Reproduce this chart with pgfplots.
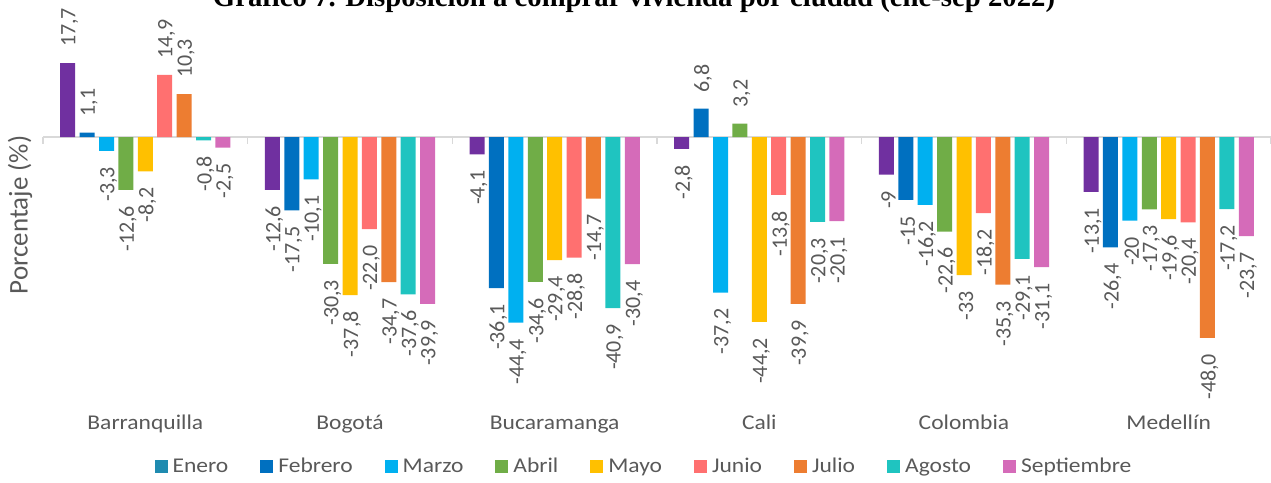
\documentclass[border=0pt]{standalone}
\usepackage{pgfplots}
\pgfplotsset{compat=1.18}
\usepackage{pgfplotstable}
\usepackage{graphicx}
\usepackage{fontspec}
\setmainfont{Carlito}
\newfontfamily\stretched{Carlito}[FakeStretch=1.12]
\newfontfamily\titlefont{Liberation Serif}
\definecolor{textgray}{HTML}{595959}
\definecolor{zl}{HTML}{D9D9D9}
\definecolor{cene}{HTML}{7030A0}
\definecolor{cenel}{HTML}{1F8BB0}
\definecolor{cfeb}{HTML}{0070C0}
\definecolor{cmar}{HTML}{00B0F0}
\definecolor{cabr}{HTML}{70AD47}
\definecolor{cmay}{HTML}{FFC000}
\definecolor{cjun}{HTML}{FF7070}
\definecolor{cjul}{HTML}{ED7D31}
\definecolor{cago}{HTML}{1FC4C0}
\definecolor{csep}{HTML}{D56BB9}

\pgfplotstableread{
x ene eneL feb febL mar marL abr abrL may mayL jun junL jul julL ago agoL sep sepL
0 17.7 17,7 1.1 1,1 -3.3 -3,3 -12.6 -12,6 -8.2 -8,2 14.9 14,9 10.3 10,3 -0.8 -0,8 -2.5 -2,5
1 -12.6 -12,6 -17.5 -17,5 -10.1 -10,1 -30.3 -30,3 -37.8 -37,8 -22.0 -22,0 -34.7 -34,7 -37.6 -37,6 -39.9 -39,9
2 -4.1 -4,1 -36.1 -36,1 -44.4 -44,4 -34.6 -34,6 -29.4 -29,4 -28.8 -28,8 -14.7 -14,7 -40.9 -40,9 -30.4 -30,4
3 -2.8 -2,8 6.8 6,8 -37.2 -37,2 3.2 3,2 -44.2 -44,2 -13.8 -13,8 -39.9 -39,9 -20.3 -20,3 -20.1 -20,1
4 -9 -9 -15 -15 -16.2 -16,2 -22.6 -22,6 -33 -33 -18.2 -18,2 -35.3 -35,3 -29.1 -29,1 -31.1 -31,1
5 -13.1 -13,1 -26.4 -26,4 -20 -20 -17.3 -17,3 -19.6 -19,6 -20.4 -20,4 -48.0 -48,0 -17.2 -17,2 -23.7 -23,7
}\data

\begin{document}
\begin{tikzpicture}
\begin{axis}[
  at={(43pt,74pt)}, anchor=south west,
  width=1228pt, height=408pt, scale only axis,
  xmin=-0.5, xmax=5.5, ymin=-64.8, ymax=32.8,
  axis line style={draw=none},
  ytick=\empty,
  xtick={0,1,2,3,4,5},
  xticklabels={Barranquilla,Bogotá,Bucaramanga,Cali,Colombia,Medellín},
  major tick length=0pt,
  xticklabel style={anchor=base, yshift=-21pt, text=textgray, font=\stretched\fontsize{21}{25}\selectfont},
  clip=false,
  ybar=4.4pt, bar width=15pt,
  point meta=explicit symbolic,
  visualization depends on={rawy \as \rawy},
  nodes near coords={\rotatebox{90}{\pgfplotspointmeta}},
  every node near coord/.append style={font=\fontsize{22}{25}\selectfont, text=textgray, inner xsep=0pt, inner ysep=16pt, xshift=2pt},
  every node near coord/.append code={%
    \ifdim\rawy pt<0pt \pgfkeysalso{/tikz/anchor=north}\else\pgfkeysalso{/tikz/anchor=south}\fi},
  legend columns=9,
  legend style={draw=none, fill=none, at={(0.4894,-0.1422)}, anchor=center,
    /tikz/every even column/.append style={column sep=30pt},
    /tikz/every odd column/.append style={column sep=3pt},
    nodes={inner sep=2pt, text=textgray, font=\stretched\fontsize{21}{25}\selectfont}},
  legend image code/.code={\fill[#1] (0pt,-6.5pt) rectangle (13pt,6.5pt);},
]
\draw[zl, line width=1.5pt] (axis cs:-0.5,0) -- (axis cs:5.5,0);
\pgfplotsinvokeforeach{-0.5,0.5,1.5,2.5,3.5,4.5,5.5}{
  \draw[zl, line width=1.2pt] (axis cs:#1,0) -- ([yshift=-7pt]axis cs:#1,0);
}
\addplot[fill=cene, draw=none, legend image code/.code={\fill[cenel] (0pt,-6.5pt) rectangle (13pt,6.5pt);}] table[x=x, y=ene, meta=eneL] {\data};
\addplot[fill=cfeb, draw=none] table[x=x, y=feb, meta=febL] {\data};
\addplot[fill=cmar, draw=none] table[x=x, y=mar, meta=marL] {\data};
\addplot[fill=cabr, draw=none] table[x=x, y=abr, meta=abrL] {\data};
\addplot[fill=cmay, draw=none] table[x=x, y=may, meta=mayL] {\data};
\addplot[fill=cjun, draw=none] table[x=x, y=jun, meta=junL] {\data};
\addplot[fill=cjul, draw=none] table[x=x, y=jul, meta=julL] {\data};
\addplot[fill=cago, draw=none] table[x=x, y=ago, meta=agoL] {\data};
\addplot[fill=csep, draw=none] table[x=x, y=sep, meta=sepL] {\data};
\legend{Enero,Febrero,Marzo,Abril,Mayo,Junio,Julio,Agosto,Septiembre}
\end{axis}
\node[rotate=90, text=textgray, font=\fontsize{27}{30}\selectfont] at (20pt,267pt) {Porcentaje (\%)};
\node[anchor=base, inner sep=0pt] at (634pt,475pt) {\resizebox{842pt}{!}{\titlefont\bfseries Gráfico 7. Disposición a comprar vivienda por ciudad (ene-sep 2022)}};
\pgfresetboundingbox
\path[use as bounding box] (0,0) rectangle (1271pt,482pt);
\end{tikzpicture}
\end{document}
